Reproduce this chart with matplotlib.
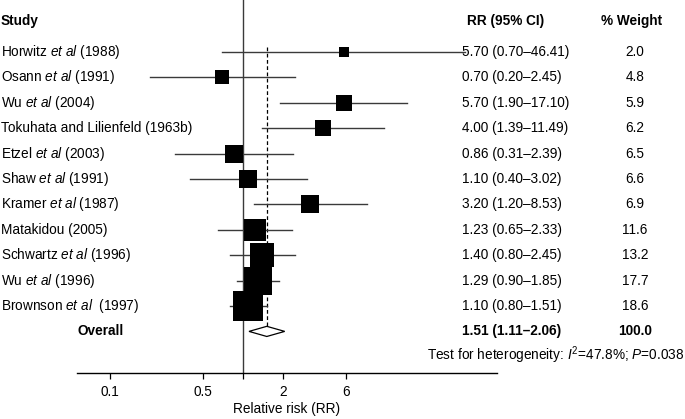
import numpy as np
import matplotlib
matplotlib.use("Agg")
import matplotlib.pyplot as plt
from matplotlib.transforms import blended_transform_factory

plt.rcParams["font.family"] = ["Liberation Sans", "DejaVu Sans"]
plt.rcParams["mathtext.fontset"] = "custom"
plt.rcParams["mathtext.rm"] = "Liberation Sans"
plt.rcParams["mathtext.it"] = "Liberation Sans:italic"
plt.rcParams["mathtext.bf"] = "Liberation Sans:bold"

studies = [
    r"Horwitz $\mathit{et\ al}$ (1988)",
    r"Osann $\mathit{et\ al}$ (1991)",
    r"Wu $\mathit{et\ al}$ (2004)",
    "Tokuhata and Lilienfeld (1963b)",
    r"Etzel $\mathit{et\ al}$ (2003)",
    r"Shaw $\mathit{et\ al}$ (1991)",
    r"Kramer $\mathit{et\ al}$ (1987)",
    "Matakidou (2005)",
    r"Schwartz $\mathit{et\ al}$ (1996)",
    r"Wu $\mathit{et\ al}$ (1996)",
    r"Brownson $\mathit{et\ al}$  (1997)",
]
rr = [5.70, 0.70, 5.70, 4.00, 0.86, 1.10, 3.20, 1.23, 1.40, 1.29, 1.10]
lo = [0.70, 0.20, 1.90, 1.39, 0.31, 0.40, 1.20, 0.65, 0.80, 0.90, 0.80]
hi = [46.41, 2.45, 17.10, 11.49, 2.39, 3.02, 8.53, 2.33, 2.45, 1.85, 1.51]
weight = [2.0, 4.8, 5.9, 6.2, 6.5, 6.6, 6.9, 11.6, 13.2, 17.7, 18.6]

overall_rr = 1.51
overall_lo = 1.11
overall_hi = 2.06
overall_weight = 100.0

xticks = [0.1, 0.5, 1, 2, 6]
xticklabels = ["0.1", "0.5", "", "2", "6"]

W, H = 685, 419
fig = plt.figure(figsize=(W / 100, H / 100), dpi=100)
# axes: x from 77 to 497 px, y from top of figure down to 373 px
ax = fig.add_axes([77 / W, (H - 373) / H, (497 - 77) / W, 373 / H])
ax.set_xscale("log")
ax.set_xlim(10 ** -1.248, 10 ** 1.910)
row0, dy = 52, 25.4
ax.set_ylim((373 - row0) / dy, (0 - row0) / dy)

line_col = "#3a3a3a"
n = len(studies)
ys = np.arange(n)

ax.axvline(1, color=line_col, lw=1.0, zorder=1)
ax.plot([overall_rr, overall_rr], [-0.2, n], color="black", lw=0.9,
        ls=(0, (3, 2)), zorder=1)

for y, r, l, h, w in zip(ys, rr, lo, hi, weight):
    ax.plot([l, h], [y, y], color=line_col, lw=1.0, zorder=2)
    ax.plot(r, y, marker="s", color="black", ms=4.85 * np.sqrt(w), mew=0, zorder=3)

# diamond for overall
yo = n
ax.fill([overall_lo, overall_rr, overall_hi, overall_rr, overall_lo],
        [yo, yo - 0.2, yo, yo + 0.2, yo], facecolor="white",
        edgecolor="black", lw=0.9, zorder=3)

for s in ["top", "right", "left"]:
    ax.spines[s].set_visible(False)
ax.spines["bottom"].set_linewidth(1.0)
ax.set_yticks([])
ax.set_xticks(xticks)
ax.set_xticklabels(xticklabels)
ax.minorticks_off()
ax.tick_params(axis="x", direction="out", length=4, width=0.9, pad=4.5, labelsize=9.8)
ax.set_xlabel("Relative risk (RR)", fontsize=9.8, labelpad=2.5)

trans = blended_transform_factory(fig.transFigure, ax.transData)
fs = 9.8
hdr_y = (21 - row0) / dy
ax.text(1 / W, hdr_y, "Study", transform=trans, fontsize=fs, fontweight="bold",
        ha="left", va="center")
ax.text(467 / W, hdr_y, "RR (95% CI)", transform=trans, fontsize=fs,
        fontweight="bold", ha="left", va="center")
ax.text(632 / W, hdr_y, "% Weight", transform=trans, fontsize=fs,
        fontweight="bold", ha="center", va="center")

for y, name, r, l, h, w in zip(ys, studies, rr, lo, hi, weight):
    ax.text(1 / W, y, name, transform=trans, fontsize=fs, ha="left", va="center")
    ax.text(462 / W, y, f"{r:.2f} ({l:.2f}\u2013{h:.2f})", transform=trans,
            fontsize=fs, ha="left", va="center")
    ax.text(635 / W, y, f"{w:.1f}", transform=trans, fontsize=fs,
            ha="center", va="center")

ax.text(77 / W, yo, "Overall", transform=trans, fontsize=fs, fontweight="bold",
        ha="left", va="center")
ax.text(462 / W, yo, f"{overall_rr:.2f} ({overall_lo:.2f}\u2013{overall_hi:.2f})",
        transform=trans, fontsize=fs, fontweight="bold", ha="left", va="center")
ax.text(635 / W, yo, f"{overall_weight:.1f}", transform=trans, fontsize=fs,
        fontweight="bold", ha="center", va="center")

ax.text(684 / W, (355 - row0) / dy,
        r"Test for heterogeneity: $I^2$=47.8%; $P$=0.038",
        transform=trans, fontsize=fs, ha="right", va="center")

fig.savefig("out.png", dpi=100)
